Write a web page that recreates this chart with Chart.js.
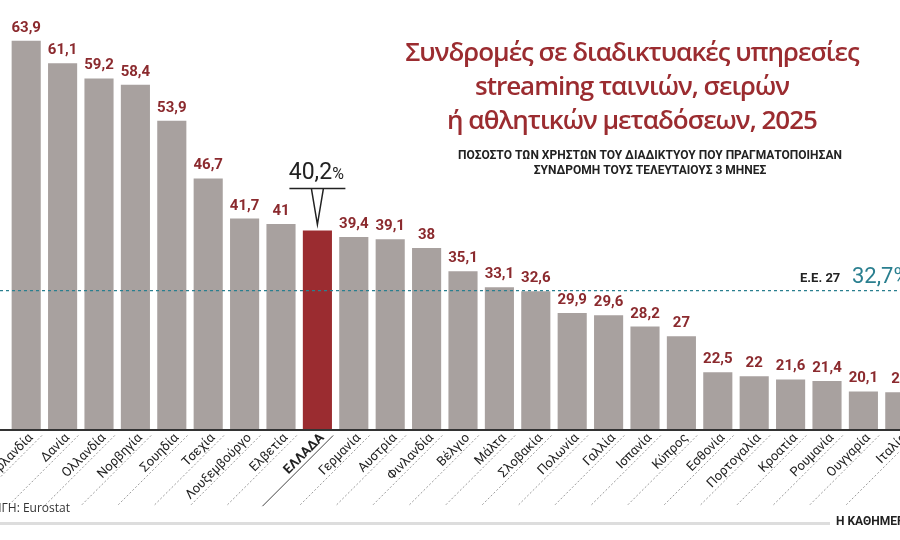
<!DOCTYPE html>
<html><head><meta charset="utf-8">
<script src="https://cdn.jsdelivr.net/npm/chart.js@4.4.1/dist/chart.umd.min.js"></script>
<style>
body{margin:0;width:900px;height:540px;overflow:hidden;background:#fff;position:relative;font-family:"Liberation Sans Narrow",Roboto,sans-serif}
#wrap{position:absolute;left:0;top:0;width:940px;height:540px}
#title{position:absolute;right:-2px;top:34px;width:540px;text-align:center;color:#9b2c30;font-family:"Open Sans",sans-serif;font-weight:600;font-size:26px;line-height:34px;letter-spacing:-1px}
#sub{position:absolute;right:50px;top:148px;width:400px;text-align:center;color:#222;font-family:"Liberation Sans Narrow",Roboto,sans-serif;font-weight:bold;font-size:12px;line-height:15px}
#src{position:absolute;left:-16px;top:499px;font-size:12px;color:#333;font-family:"Open Sans",sans-serif}
#rule{position:absolute;left:0;top:522px;width:830px;height:3px;background:#ddd}
#brand{position:absolute;left:836px;top:514px;font-size:12px;font-weight:bold;color:#222;white-space:nowrap}
</style></head><body>
<div id="wrap"><canvas id="c" width="940" height="540"></canvas></div>
<div id="title">Συνδρομές σε διαδικτυακές υπηρεσίες<br>streaming ταινιών, σειρών<br>ή αθλητικών μεταδόσεων, 2025</div>
<div id="sub">ΠΟΣΟΣΤΟ ΤΩΝ ΧΡΗΣΤΩΝ ΤΟΥ ΔΙΑΔΙΚΤΥΟΥ ΠΟΥ ΠΡΑΓΜΑΤΟΠΟΙΗΣΑΝ<br>ΣΥΝΔΡΟΜΗ ΤΟΥΣ ΤΕΛΕΥΤΑΙΟΥΣ 3 ΜΗΝΕΣ</div>
<div id="src">ΠΗΓΗ: Eurostat</div>
<div id="rule"></div>
<div id="brand">Η ΚΑΘΗΜΕΡΙΝΗ</div>
<script>
// data
const countries = ["Ιρλανδία","Δανία","Ολλανδία","Νορβηγία","Σουηδία","Τσεχία","Λουξεμβούργο","Ελβετία","ΕΛΛΑΔΑ","Γερμανία","Αυστρία","Φινλανδία","Βέλγιο","Μάλτα","Σλοβακία","Πολωνία","Γαλλία","Ισπανία","Κύπρος","Εσθονία","Πορτογαλία","Κροατία","Ρουμανία","Ουγγαρία","Ιταλία"];
const values = [63.9,61.1,59.2,58.4,53.9,46.7,41.7,41,40.2,39.4,39.1,38,35.1,33.1,32.6,29.9,29.6,28.2,27,22.5,22,21.6,21.4,20.1,20];
const euAvg = 32.7;
const greeceIdx = countries.indexOf("ΕΛΛΑΔΑ");

const fmt = v => v.toFixed(1).replace(/\.0$/, "").replace(".", ",");
const F = "'Liberation Sans Narrow', Roboto, sans-serif";

const extras = {
  id: "extras",
  afterDatasetsDraw(chart) {
    const ctx = chart.ctx, y = chart.scales.y, area = chart.chartArea;
    const meta = chart.getDatasetMeta(0);
    ctx.save();
    // EU average line
    const ya = y.getPixelForValue(euAvg);
    ctx.strokeStyle = "#2a7f8f"; ctx.lineWidth = 1.3; ctx.setLineDash([3, 3]);
    ctx.beginPath(); ctx.moveTo(0, ya); ctx.lineTo(940, ya); ctx.stroke();
    ctx.setLineDash([]);
    ctx.textBaseline = "alphabetic"; ctx.textAlign = "left";
    ctx.fillStyle = "#222"; ctx.font = "bold 13px " + F;
    ctx.fillText("Ε.Ε. 27", 800, ya - 9);
    ctx.fillStyle = "#2a7f8f"; ctx.font = "22px " + F;
    ctx.fillText(fmt(euAvg) + "%", 852, ya - 8);
    // baseline
    ctx.strokeStyle = "#333"; ctx.lineWidth = 2;
    ctx.beginPath(); ctx.moveTo(0, area.bottom + 1); ctx.lineTo(940, area.bottom + 1); ctx.stroke();
    // value labels
    meta.data.forEach((bar, i) => {
      if (i === greeceIdx) return;
      ctx.fillStyle = "#8b2a2e"; ctx.textAlign = "center";
      ctx.font = "bold 15px " + F;
      ctx.fillText(fmt(values[i]), bar.x, bar.y - 9);
    });
    // Greece callout
    const g = meta.data[greeceIdx];
    ctx.fillStyle = "#222"; ctx.textAlign = "center";
    ctx.font = "23px " + F;
    const t = fmt(values[greeceIdx]);
    const tw = ctx.measureText(t).width;
    ctx.fillText(t, g.x - 7, g.y - 52);
    ctx.font = "16px " + F;
    ctx.fillText("%", g.x - 7 + tw / 2 + 6, g.y - 52);
    ctx.strokeStyle = "#222"; ctx.lineWidth = 1.5;
    ctx.beginPath();
    ctx.moveTo(g.x - 28, g.y - 42); ctx.lineTo(g.x + 28, g.y - 42);
    ctx.moveTo(g.x - 6, g.y - 42); ctx.lineTo(g.x, g.y - 6); ctx.lineTo(g.x + 6, g.y - 42);
    ctx.stroke();
    // category labels, rotated
    meta.data.forEach((bar, i) => {
      const cx = bar.x + 8, cy = area.bottom + 10;
      ctx.save();
      ctx.translate(cx, cy); ctx.rotate(-Math.PI / 4);
      const isG = i === greeceIdx;
      ctx.fillStyle = "#222"; ctx.textAlign = "right"; ctx.textBaseline = "alphabetic";
      ctx.font = (isG ? "bold 13px " : "13px ") + F;
      ctx.fillText(countries[i], 0, -1);
      ctx.strokeStyle = isG ? "#222" : "#888"; ctx.lineWidth = 0.8;
      if (!isG) ctx.setLineDash([2, 2]);
      ctx.beginPath(); ctx.moveTo(8, 3); ctx.lineTo(-92, 3); ctx.stroke();
      ctx.restore();
    });
    ctx.restore();
  }
};

new Chart(document.getElementById("c"), {
  type: "bar",
  data: {
    labels: countries,
    datasets: [{
      data: values,
      backgroundColor: values.map((v, i) => i === greeceIdx ? "#9b2c30" : "#a8a19f"),
      categoryPercentage: 1, barPercentage: 0.8
    }]
  },
  options: {
    responsive: false, animation: false, events: [],
    layout: { padding: { left: 8, right: 22, top: 4, bottom: 111 } },
    plugins: { legend: { display: false }, tooltip: { enabled: false } },
    scales: {
      x: { display: false },
      y: { display: false, min: 15.4, max: 68.5 }
    }
  },
  plugins: [extras]
});
</script>
</body></html>
